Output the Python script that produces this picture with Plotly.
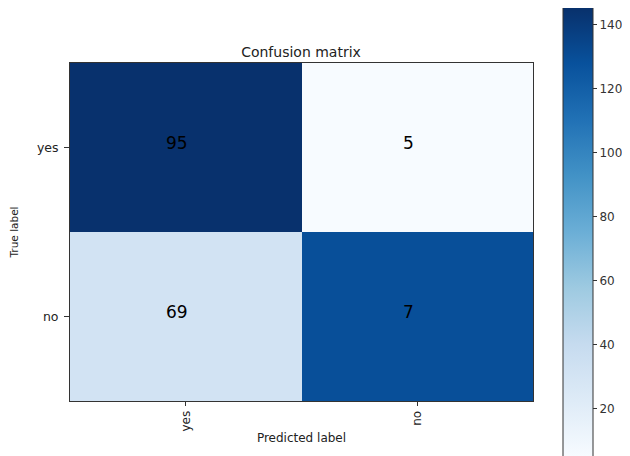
import plotly.graph_objects as go

# Data
pred_labels = ["yes", "no"]
true_labels = ["yes", "no"]
cell_labels = [[95, 5], [69, 7]]          # numbers printed in the cells
cell_values = [[145, 5], [31, 129]]       # values driving the cell colours
color_min = 5.0
color_max = 145.6
cb_ticks = [20, 40, 60, 80, 100, 120, 140]

# page body has an 8px default margin -> draw in a slightly smaller figure
OFF = 8
W, H = 630 - OFF, 456 - OFF
L, R, T, B = 70 - OFF, 533 - OFF, 63 - OFF, 401 - OFF
pw, ph = R - L, B - T
px_per_unit = 3.2

fig = go.Figure()
fig.add_trace(go.Heatmap(
    z=cell_values,
    x=pred_labels,
    y=true_labels,
    colorscale="Blues",
    zmin=color_min,
    zmax=color_max,
    showscale=True,
    xgap=0, ygap=0,
    hoverinfo="skip",
    colorbar=dict(
        thickness=30,
        lenmode="pixels",
        len=px_per_unit * (color_max - color_min),
        x=(563 - OFF - L) / pw,
        xanchor="left",
        y=(B - (7 - OFF)) / ph,
        yanchor="top",
        outlinecolor="#333",
        outlinewidth=1,
        ticks="outside",
        ticklen=4,
        tickcolor="#333",
        tickvals=cb_ticks,
        tickfont=dict(family="DejaVu Sans", size=12, color="#333"),
        xpad=0, ypad=0,
    ),
))

for i, row in enumerate(cell_labels):
    for j, v in enumerate(row):
        fig.add_annotation(
            x=pred_labels[j], y=true_labels[i], text=str(v),
            showarrow=False, xshift=-9, yshift=5,
            font=dict(family="DejaVu Sans", size=17, color="black"),
        )

fig.update_layout(
    width=W, height=H,
    margin=dict(l=L, r=W - R, t=T, b=H - B, pad=0, autoexpand=False),
    paper_bgcolor="white", plot_bgcolor="white",
    title=dict(text="Confusion matrix", x=(301 - OFF) / W, xanchor="center",
               y=1 - (52 - OFF) / H, yanchor="middle",
               font=dict(family="DejaVu Sans", size=14, color="#222")),
    font=dict(family="DejaVu Sans", color="#222"),
    xaxis=dict(
        title=dict(text="Predicted label", font=dict(size=12), standoff=3),
        tickangle=-90, ticks="outside", ticklen=4, tickcolor="#333",
        showline=True, mirror=True, linecolor="#333", linewidth=1,
        showgrid=False, zeroline=False, tickfont=dict(size=12),
        automargin=False,
    ),
    yaxis=dict(
        title=dict(text="True label", font=dict(size=10.5), standoff=18),
        autorange="reversed",
        ticks="outside", ticklen=5, tickcolor="#333",
        showline=True, mirror=True, linecolor="#333", linewidth=1,
        showgrid=False, zeroline=False, tickfont=dict(size=12.5),
        ticklabelstandoff=3,
        automargin=False,
    ),
)

fig.write_html("out.html")
